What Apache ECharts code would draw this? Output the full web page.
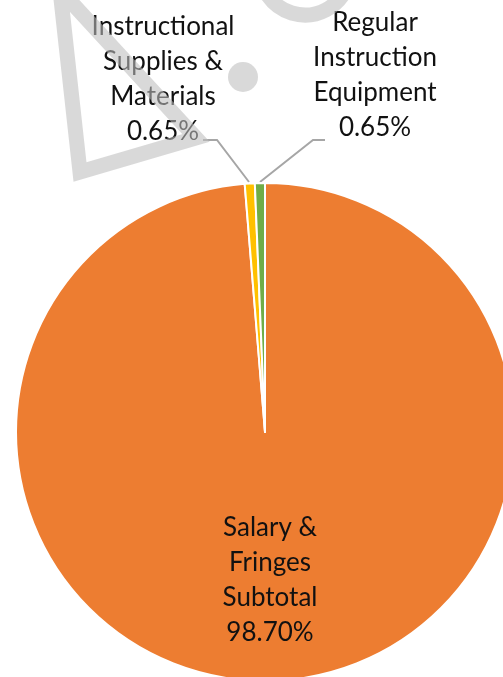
<!DOCTYPE html>
<html>
<head>
<meta charset="utf-8">
<script src="https://cdn.jsdelivr.net/npm/echarts@6/dist/echarts.min.js"></script>
<style>
  html, body { margin: 0; padding: 0; background: #fff; }
  #main { width: 503px; height: 677px; }
</style>
</head>
<body>
<div id="main"></div>
<script>
// categories and shares (percent)
var categories = ['Salary &\nFringes\nSubtotal', 'Instructional\nSupplies &\nMaterials', 'Regular\nInstruction\nEquipment'];
var shares = [98.70, 0.65, 0.65];
var colors = ['#ED7D31', '#FFC000', '#70AD47'];

var chart = echarts.init(document.getElementById('main'));

// where each label sits (centre of the text block) and its leader line
var labelPos = [
  { x: 270, y: 580, line: null },
  { x: 163, y: 79, line: [[249, 182], [217, 140], [203, 140]] },
  { x: 375, y: 75, line: [[260, 182], [313, 140], [325, 140]] }
];

var pieData = categories.map(function (c, i) {
  return {
    name: c,
    value: shares[i],
    itemStyle: { color: colors[i] },
    label: { position: i === 0 ? 'inside' : 'outside' },
    labelLine: { show: i !== 0 }
  };
});

var wm = 'rgba(190,190,190,0.58)';

option = {
  animation: false,
  series: [{
    type: 'pie',
    center: [265, 432],
    radius: 249,
    startAngle: 90,
    clockwise: true,
    avoidLabelOverlap: false,
    itemStyle: { borderColor: '#fff', borderWidth: 2 },
    label: {
      show: true,
      fontFamily: 'Lato',
      fontSize: 26,
      lineHeight: 35,
      color: '#111',
      align: 'center',
      formatter: function (p) {
        return p.name + '\n' + p.value.toFixed(2) + '%';
      }
    },
    labelLine: {
      lineStyle: { color: '#a6a6a6', width: 2 }
    },
    labelLayout: function (params) {
      var lp = labelPos[params.dataIndex];
      var res = { x: lp.x, y: lp.y, align: 'center', verticalAlign: 'middle' };
      if (lp.line) res.labelLinePoints = lp.line;
      return res;
    },
    emphasis: { disabled: true },
    data: pieData
  }],
  // faint watermark drawn over everything
  graphic: [
    {
      type: 'polygon', z: 100, silent: true,
      shape: { points: [[60, -10], [80, 172], [196, 138]] },
      style: { fill: null, stroke: wm, lineWidth: 15, lineJoin: 'miter' }
    },
    {
      type: 'circle', z: 100, silent: true,
      shape: { cx: 243, cy: 77, r: 15 },
      style: { fill: wm }
    },
    {
      type: 'arc', z: 100, silent: true,
      shape: { cx: 305, cy: -30, r: 45, startAngle: 0.3, endAngle: 2.6 },
      style: { stroke: wm, lineWidth: 15, fill: null }
    }
  ]
};

chart.setOption(option);
</script>
</body>
</html>
